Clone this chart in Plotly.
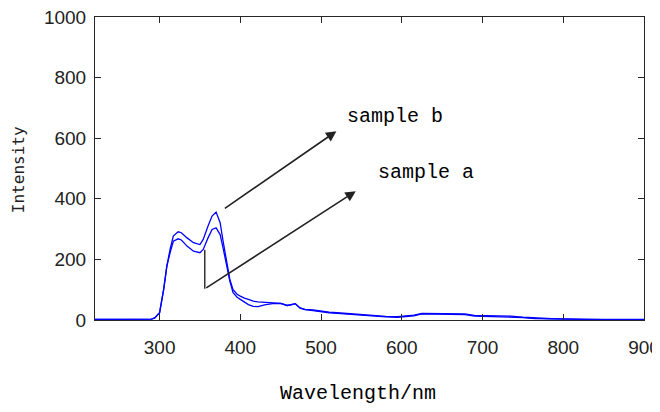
import plotly.graph_objects as go

wavelength = [220, 250, 280, 290, 294, 300, 305, 309, 313, 317, 323, 327, 334, 342, 350, 354,
              360, 365, 370, 375, 379, 383, 387, 391, 396, 400, 405, 410, 416, 422, 430, 440,
              450, 458, 463, 468, 474, 480, 490, 500, 510, 520, 535, 550, 565, 580, 595, 605,
              615, 625, 640, 660, 678, 690, 710, 735, 750, 765, 780, 790, 800, 825, 850, 875, 900]
sample_b = [2, 2, 2, 3, 7, 24, 100, 178, 233, 277, 291, 288, 271, 255, 249, 266,
            310, 343, 356, 321, 255, 189, 134, 100, 85, 79, 72, 68, 62, 60, 58, 56,
            55, 48, 50, 54, 40, 35, 33, 29, 26, 24, 21, 18, 14, 12, 11, 14,
            16, 22, 22, 22, 20, 15, 14, 13, 9, 6, 5, 4, 3, 2, 2, 2, 2]
sample_a = [2, 2, 2, 3, 7, 24, 100, 178, 222, 260, 268, 264, 244, 227, 222, 233,
            271, 299, 304, 282, 233, 178, 128, 90, 75, 68, 58, 51, 45, 44, 50, 54,
            55, 48, 50, 54, 39, 34, 31, 27, 24, 22, 19, 16, 12, 10, 9, 12,
            14, 20, 20, 20, 18, 13, 12, 11, 8, 5, 4, 3, 2, 1, 1, 1, 1]

x_ticks = [300, 400, 500, 600, 700, 800, 900]
y_ticks = [0, 200, 400, 600, 800, 1000]
x_title = "Wavelength/nm"
y_title = "Intensity"

# annotation anchors (data coords)
bracket_x = 356
bracket_top = 232
bracket_bottom = 103
arrow_a_tip = (543, 425)
arrow_b_start = (379, 365)
arrow_b_tip = (519, 623)
label_b = ("sample b", 592, 671)
label_a = ("sample a", 630, 486)

fig = go.Figure()
for name, ys in [("sample a", sample_a), ("sample b", sample_b)]:
    fig.add_trace(go.Scatter(x=wavelength, y=ys, mode="lines", name=name,
                             line=dict(color="#0000ff", width=1.3), showlegend=False))

fig.add_trace(go.Scatter(x=[bracket_x, bracket_x], y=[bracket_top, bracket_bottom], mode="lines",
                         line=dict(color="#000000", width=1.2), showlegend=False, hoverinfo="skip"))

arrow_style = dict(showarrow=True, arrowhead=2, arrowsize=1.3, arrowwidth=1.6,
                   arrowcolor="#222222", xref="x", yref="y", axref="x", ayref="y", text="")
fig.add_annotation(x=arrow_a_tip[0], y=arrow_a_tip[1], ax=bracket_x, ay=bracket_bottom, **arrow_style)
fig.add_annotation(x=arrow_b_tip[0], y=arrow_b_tip[1], ax=arrow_b_start[0], ay=arrow_b_start[1], **arrow_style)

for txt, tx, ty in [label_b, label_a]:
    fig.add_annotation(x=tx, y=ty, text=txt, showarrow=False, xref="x", yref="y",
                       font=dict(family="Liberation Mono", size=20, color="#000000"))

# axis titles placed explicitly
fig.add_annotation(x=0.479, y=-0.241, xref="paper", yref="paper", text=x_title, showarrow=False,
                   xanchor="center", yanchor="middle",
                   font=dict(family="Liberation Mono", size=20, color="#000000"))
fig.add_annotation(x=-0.140, y=0.495, xref="paper", yref="paper", text=y_title, showarrow=False,
                   textangle=-90, xanchor="center", yanchor="middle",
                   font=dict(family="DejaVu Sans Mono", size=16, color="#222222"))

axis_common = dict(showline=True, mirror="ticks", linecolor="#262626", linewidth=1,
                   ticks="inside", ticklen=6, tickcolor="#262626", showgrid=False, zeroline=False,
                   automargin=False, ticklabeloverflow="allow",
                   tickfont=dict(family="Liberation Sans", size=19, color="#222222"))

# page body adds an 8px offset, so the figure is smaller than the window
fig.update_layout(
    width=652, height=404,
    margin=dict(l=87, r=16, t=9, b=92),
    paper_bgcolor="white", plot_bgcolor="white",
    xaxis=dict(range=[220, 900], tickvals=x_ticks, ticklabelstandoff=10, **axis_common),
    yaxis=dict(range=[0, 1000], tickvals=y_ticks, ticklabelstandoff=4, **axis_common),
)

fig.write_html("out.html")
